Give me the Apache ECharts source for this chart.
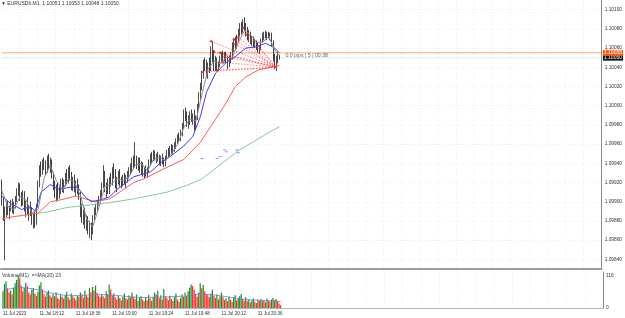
<!DOCTYPE html>
<html><head><meta charset="utf-8">
<script src="https://cdn.jsdelivr.net/npm/echarts@6/dist/echarts.min.js"></script>
<style>html,body{margin:0;padding:0;background:#fff}#c{width:625px;height:318px}</style>
</head><body><div id="c"></div>
<script>
// ---- texts ----
const symbolTitle = '\u25BC EURUSDb,M1  1.10051 1.10053 1.10048 1.10050';
const volumeTitle = 'Volume(M1)  =>MA(20) 23';
const infoText = '0.0 pips | 5 | 00:38';
const timeLabels = ['11 Jul 2023','11 Jul 18:12','11 Jul 18:36','11 Jul 19:00','11 Jul 19:24','11 Jul 19:48','11 Jul 20:12','11 Jul 20:36'];
const labelEvery = 24;
const gridEvery = 12;
const totalSlots = 396;
// prices are in points (1 point = 0.00001)
const priceTicks = [109840,109860,109880,109900,109920,109940,109960,109980,110000,110020,110040,110060,110080,110100];
const volumeTicks = [0,116];
const askPrice = 110055;
const bidPrice = 110050;

const opens = [109921,109900,109885,109890,109896,109888,109894,109899,109891,109897,
109903,109911,109916,109904,109899,109908,109893,109898,109889,109892,
109887,109880,109884,109878,109896,109918,109934,109930,109940,109936,
109932,109945,109938,109942,109927,109916,109908,109913,109905,109912,
109920,109914,109921,109927,109922,109932,109926,109916,109923,109914,
109918,109911,109906,109888,109882,109889,109876,109881,109870,109875,
109868,109884,109890,109895,109899,109904,109908,109917,109928,109913,
109917,109911,109923,109919,109933,109928,109918,109922,109929,109920,
109918,109925,109921,109924,109928,109933,109936,109942,109938,109944,
109939,109943,109934,109938,109930,109933,109928,109934,109941,109947,
109944,109951,109946,109948,109944,109941,109946,109942,109939,109946,
109951,109949,109955,109953,109957,109959,109963,109967,109965,109972,
109979,109992,109987,109982,109986,109990,109985,109988,109978,109988,
109999,110010,110020,110032,110044,110040,110035,110042,110038,110058,
110050,110040,110048,110039,110043,110050,110052,110049,110054,110046,
110042,110049,110052,110062,110066,110062,110071,110076,110082,110078,
110086,110081,110075,110071,110074,110067,110069,110064,110066,110062,
110058,110060,110068,110072,110074,110072,110075,110071,110074,110065,
110050,110042,110047,110051];
const closes = [109900,109885,109890,109896,109888,109894,109899,109891,109897,109903,
109911,109916,109904,109899,109908,109893,109898,109889,109892,109887,
109880,109884,109878,109896,109918,109934,109930,109940,109936,109932,
109945,109938,109942,109927,109916,109908,109913,109905,109912,109920,
109914,109921,109927,109922,109932,109926,109916,109923,109914,109918,
109911,109906,109888,109882,109889,109876,109881,109870,109875,109868,
109884,109890,109895,109899,109904,109908,109917,109928,109913,109917,
109911,109923,109919,109933,109928,109918,109922,109929,109920,109918,
109925,109921,109924,109928,109933,109936,109942,109938,109944,109939,
109943,109934,109938,109930,109933,109928,109934,109941,109947,109944,
109951,109946,109948,109944,109941,109946,109942,109939,109946,109951,
109949,109955,109953,109957,109959,109963,109967,109965,109972,109979,
109992,109987,109982,109986,109990,109985,109988,109978,109988,109999,
110010,110020,110032,110044,110040,110035,110042,110038,110058,110050,
110040,110048,110039,110043,110050,110052,110049,110054,110046,110042,
110049,110052,110062,110066,110062,110071,110076,110082,110078,110086,
110081,110075,110071,110074,110067,110069,110064,110066,110062,110058,
110060,110068,110072,110074,110072,110075,110071,110074,110065,110050,
110042,110047,110053,110050];
const lows = [109896,109880,109839,109884,109886,109882,109890,109888,109887,109893,
109900,109906,109901,109895,109896,109890,109884,109886,109880,109885,
109876,109872,109873,109876,109894,109915,109926,109928,109933,109928,
109930,109934,109930,109924,109912,109904,109900,109902,109903,109908,
109910,109909,109916,109918,109919,109922,109912,109911,109910,109906,
109908,109902,109884,109878,109876,109872,109870,109866,109862,109860,
109866,109880,109886,109890,109896,109900,109904,109914,109910,109904,
109908,109908,109916,109917,109924,109914,109910,109918,109916,109914,
109916,109918,109914,109920,109924,109928,109931,109934,109936,109934,
109932,109930,109928,109926,109924,109926,109925,109931,109938,109940,
109942,109943,109940,109942,109938,109937,109939,109936,109937,109943,
109946,109947,109950,109949,109952,109955,109960,109962,109963,109968,
109976,109984,109978,109976,109980,109983,109980,109974,109975,109985,
109996,110006,110016,110028,110036,110030,110028,110034,110036,110045,
110036,110036,110036,110036,110040,110044,110046,110046,110044,110038,
110040,110044,110048,110056,110058,110059,110066,110072,110074,110076,
110078,110072,110068,110066,110064,110062,110061,110060,110058,110055,
110054,110058,110066,110068,110070,110068,110070,110068,110062,110046,
110038,110036,110044,110048];
const highs = [109923,109904,109895,109900,109901,109896,109902,109903,109900,109906,
109914,109920,109919,109910,109912,109911,109901,109905,109896,109900,
109894,109888,109890,109898,109922,109938,109942,109944,109946,109943,
109948,109950,109946,109944,109931,109922,109918,109920,109916,109924,
109925,109923,109930,109934,109936,109938,109931,109926,109928,109922,
109924,109918,109910,109898,109892,109894,109886,109885,109880,109878,
109886,109894,109898,109902,109906,109912,109920,109938,109932,109920,
109924,109926,109930,109936,109940,109934,109926,109932,109934,109926,
109928,109930,109928,109932,109936,109940,109946,109948,109962,109948,
109946,109946,109942,109941,109936,109938,109936,109944,109950,109952,
109954,109953,109950,109952,109949,109948,109950,109946,109948,109954,
109956,109958,109960,109959,109962,109966,109970,109972,109975,109982,
109996,109998,109994,109990,109994,109996,109992,109996,109990,110002,
110014,110024,110036,110048,110050,110048,110045,110050,110062,110067,
110058,110052,110050,110046,110052,110056,110057,110056,110056,110052,
110052,110056,110066,110070,110072,110074,110080,110086,110087,110090,
110092,110086,110082,110079,110077,110073,110072,110070,110068,110066,
110062,110070,110076,110077,110078,110077,110077,110076,110076,110068,
110054,110052,110056,110053];
const volumes = [60,85,95,70,55,62,48,72,88,100,
116,105,80,60,72,90,78,55,48,66,
70,52,44,58,80,92,66,50,40,55,
62,45,38,50,42,56,35,30,48,40,
34,45,58,38,30,52,42,36,28,44,
40,55,48,36,62,45,38,70,56,75,
62,80,54,44,38,50,42,35,60,48,
84,66,45,52,38,30,44,36,28,40,
52,35,30,45,38,55,40,32,48,26,
36,42,30,24,38,28,46,33,25,40,
55,48,62,35,45,30,68,42,36,28,
44,32,25,38,52,30,22,35,48,40,
55,42,60,72,84,78,65,50,40,55,
88,70,82,60,50,45,38,52,65,44,
36,48,30,42,55,38,28,35,24,40,
30,22,38,45,28,35,42,50,32,26,
38,24,30,20,28,35,22,18,30,25,
32,24,28,20,34,26,22,30,36,28,
32,24,16,10];
// moving averages: [bar index, value]
const grayMA = [[0,109912],[4,109895],[8,109892],[12,109905],[16,109902],[20,109888],[24,109892],[28,109925],[32,109938],[36,109922],[40,109912],[44,109924],[48,109920],[52,109906],[56,109882],[60,109874],[64,109894],[68,109916],[72,109918],[76,109924],[80,109922],[84,109926],[88,109938],[92,109940],[96,109932],[100,109944],[104,109946],[108,109943],[112,109950],[116,109960],[120,109977],[124,109986],[128,109984],[132,110012],[136,110038],[140,110046],[144,110044],[148,110050],[152,110050],[156,110066],[160,110078],[164,110074],[168,110066],[172,110066],[176,110072],[180,110058],[183,110052]];
const blueMA = [[0,109906],[6,109898],[13,109892],[19,109895],[22,109890],[26,109910],[32,109918],[37,109913],[45,109915],[50,109915],[55,109905],[59,109900],[65,109902],[71,109905],[76,109913],[87,109926],[98,109931],[105,109941],[111,109947],[120,109958],[126,109968],[131,109989],[135,110014],[141,110034],[148,110045],[154,110051],[161,110060],[167,110061],[174,110065],[180,110060],[183,110055]];
const redMA = [[0,109882],[6,109884],[19,109887],[24,109888],[32,109900],[39,109902],[49,109906],[55,109903],[62,109900],[71,109903],[74,109906],[87,109920],[94,109924],[109,109936],[120,109944],[131,109962],[138,109979],[141,109986],[148,110003],[154,110020],[161,110030],[169,110037],[180,110041],[183,110042]];
const greenMA = [[24,109888],[32,109890],[43,109894],[65,109898],[71,109899],[87,109903],[109,109910],[122,109917],[131,109923],[138,109931],[155,109952],[177,109973],[183,109978]];
const volumeMA = [[0,63],[10,74],[20,68],[30,55],[40,46],[50,44],[60,48],[70,47],[80,42],[90,37],[100,38],[110,40],[120,42],[130,50],[140,46],[150,38],[160,30],[170,27],[180,24],[183,23]];
const fanPoints = [[132,110035],[138,110067],[140,110056],[142,110037],[144,110055],[146,110045],[147,110051],[153,110069],[154,110064],[156,110071],[159,110081],[161,110074]];
const fanTarget = [181,110040];
const blueMarks = [[132,109945],[142,109945],[144,109947],[147,109954],[148,109952],[155,109954],[156,109951]];
const infoAnchor = [187,110052];

// ---- chart ----
const fmtPrice = v => (v/100000).toFixed(5);
const slots = Array.from({length: totalSlots}, (_, i) => i);
const ohlc = opens.map((o, i) => [o, closes[i], lows[i], highs[i]]);
const volData = volumes.map((v, i) => ({
  value: v,
  itemStyle: {color: (i === 0 || v >= volumes[i-1]) ? '#208c20' : '#ff2a2a'}
}));
const FONT = 'Liberation Sans';
const splitX = {show: true, interval: (i) => i > 0 && i % gridEvery === 0, lineStyle: {color: '#ededed', type: [1, 2], width: 1}};

// horizontal price line spanning the whole axis, with its value tag beyond the right end
const priceLineSeries = (price, lineColor, labelBg, z) => ({
  type: 'line', xAxisIndex: 0, yAxisIndex: 0, data: [[0, price], [totalSlots - 1, price]], symbol: 'none', silent: true, z,
  itemStyle: {color: lineColor}, lineStyle: {color: lineColor, width: 1},
  endLabel: {show: true, distance: 2, formatter: p => fmtPrice(p.value[1]), color: '#fff', backgroundColor: labelBg,
    fontSize: 5, fontFamily: FONT, padding: [1, 1, 0, 1]}
});

const series = [];
const line = (data, color, w) => ({type: 'line', xAxisIndex: 0, yAxisIndex: 0, data, symbol: 'none', silent: true,
  lineStyle: {color, width: w || 1}, z: 3});
series.push(priceLineSeries(bidPrice, '#e3e8f0', '#111', 1));
series.push(priceLineSeries(askPrice, '#ffa478', '#ff5a14', 1));
fanPoints.forEach(p => series.push({type: 'line', xAxisIndex: 0, yAxisIndex: 0, data: [p, fanTarget], symbol: 'none', silent: true,
  lineStyle: {color: 'rgba(255,40,40,0.75)', width: 0.8, type: [1.5, 1.5]}, z: 4}));
series.push(line(greenMA, '#7fcf94'));
series.push(line(redMA, '#ff5a5a'));
series.push(line(blueMA, '#3a3aff'));
series.push(line(grayMA, '#8c8c8c'));
series.push({
  type: 'candlestick', xAxisIndex: 0, yAxisIndex: 0, data: ohlc, barWidth: 1.1, z: 2,
  itemStyle: {color: '#9a9a9a', color0: '#111', borderColor: '#222', borderColor0: '#111', borderWidth: 0.8}
});
series.push({type: 'scatter', xAxisIndex: 0, yAxisIndex: 0, data: fanPoints, symbol: 'circle', symbolSize: 2.6, silent: true,
  itemStyle: {color: '#ff1a1a'}, z: 6});
series.push({type: 'scatter', xAxisIndex: 0, yAxisIndex: 0, data: blueMarks, symbol: 'rect', symbolSize: [3, 1], silent: true,
  itemStyle: {color: '#7070ff'}, z: 6});
series.push({type: 'scatter', xAxisIndex: 0, yAxisIndex: 0, data: [infoAnchor], symbolSize: 0, silent: true,
  label: {show: true, position: 'right', distance: 0, formatter: infoText, color: '#444', fontSize: 5.2, fontFamily: FONT}, z: 7});
series.push({type: 'bar', xAxisIndex: 1, yAxisIndex: 1, data: volData, barWidth: 1.2, silent: true, animation: false});
series.push({type: 'line', xAxisIndex: 1, yAxisIndex: 1, data: volumeMA, symbol: 'none', silent: true,
  lineStyle: {color: '#7777dd', width: 0.8}, z: 4});

const option = {
  animation: false,
  backgroundColor: '#ffffff',
  textStyle: {fontFamily: FONT},
  title: [
    {text: symbolTitle, left: 1, top: 1, padding: 0, textStyle: {fontSize: 5, fontWeight: 'normal', color: '#333', fontFamily: FONT}},
    {text: volumeTitle, left: 2, top: 273, padding: 0, textStyle: {fontSize: 5, fontWeight: 'normal', color: '#333', fontFamily: FONT}}
  ],
  grid: [
    {left: 1, right: 22, top: 0, height: 269},
    {left: 1, right: 22, top: 272, height: 36}
  ],
  xAxis: [
    {type: 'category', gridIndex: 0, data: slots, boundaryGap: true,
     axisLine: {show: true, lineStyle: {color: '#9c9c9c', width: 2}}, axisTick: {show: false}, axisLabel: {show: false},
     splitLine: splitX},
    {type: 'category', gridIndex: 1, data: slots, boundaryGap: true,
     axisLine: {show: true, lineStyle: {color: '#b4b4b4', width: 1}}, axisTick: {show: false},
     axisLabel: {show: true, interval: (i) => i % labelEvery === 0 && i / labelEvery < timeLabels.length,
       formatter: (v, i) => timeLabels[Math.round(i / labelEvery)] || '', align: 'left', fontSize: 4.6, color: '#333', margin: 3, fontFamily: FONT},
     splitLine: splitX}
  ],
  yAxis: [
    {type: 'value', gridIndex: 0, position: 'right', min: 109830, max: 110110, scale: true,
     axisLine: {show: true, lineStyle: {color: '#8a8a8a', width: 1}},
     axisTick: {show: false, customValues: priceTicks},
     axisLabel: {show: true, customValues: priceTicks, formatter: v => fmtPrice(v), fontSize: 4.8, color: '#333', margin: 3, fontFamily: FONT},
     splitLine: {show: true, lineStyle: {color: '#ededed', type: [1, 2], width: 1}}},
    {type: 'value', gridIndex: 1, position: 'right', min: 0, max: 128,
     axisLine: {show: true, lineStyle: {color: '#8a8a8a', width: 1}},
     axisTick: {show: false, customValues: volumeTicks},
     axisLabel: {show: true, customValues: volumeTicks, fontSize: 4.8, color: '#333', margin: 3, fontFamily: FONT},
     splitLine: {show: false}}
  ],
  series
};
const chart = echarts.init(document.getElementById('c'), null, {renderer: 'canvas'});
chart.setOption(option);
</script></body></html>
